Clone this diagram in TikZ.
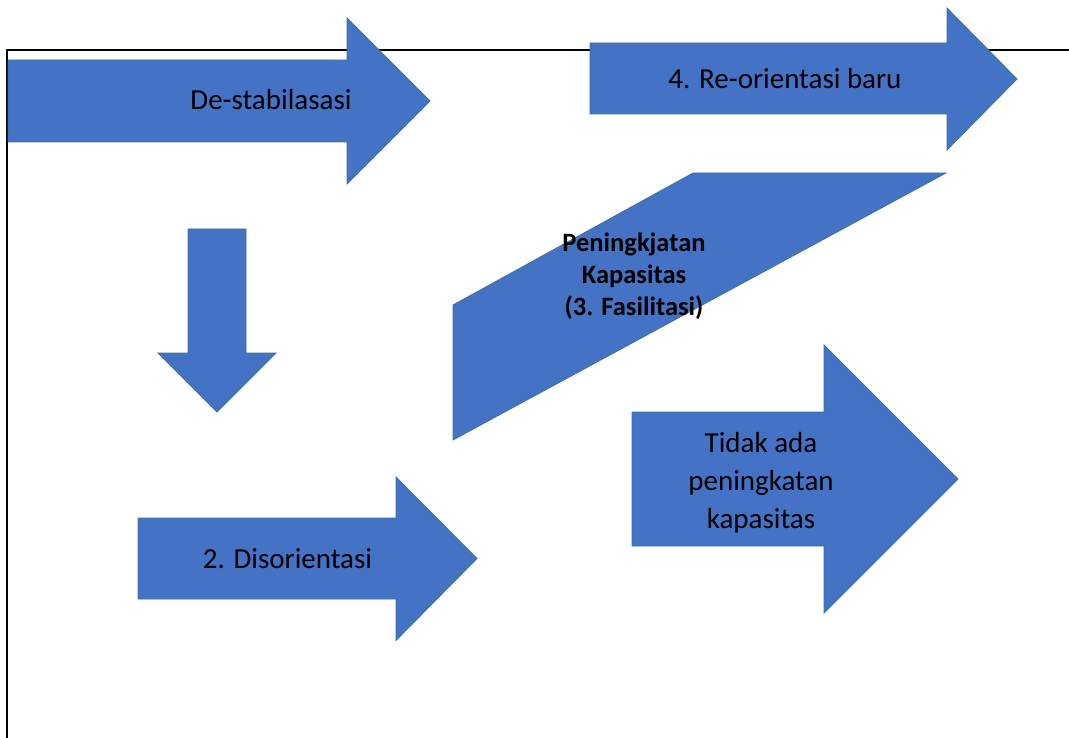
\documentclass[tikz,border=0pt]{standalone}
\usepackage{fontspec}
\setmainfont{Carlito}
\definecolor{arrowfill}{HTML}{4472C4}
\definecolor{arrowline}{HTML}{41719C}

\begin{document}
\begin{tikzpicture}[x=1pt,y=-1pt,
  blockarrow/.style={fill=arrowfill,draw=arrowline,line width=0.8pt,line join=miter},
  framerule/.style={draw=black,line width=2pt},
  arrowtext/.style={font=\fontsize{29}{38.3}\selectfont,text=black,inner sep=0pt},
  boldtext/.style={font=\fontsize{26.5}{32}\selectfont\bfseries,text=black,align=center,inner sep=0pt}]
\useasboundingbox (0,0) rectangle (1069,738);

% page frame (top and left rules)
\draw[framerule] (7,738) -- (7,50) -- (1069,50);

% 1. De-stabilisation arrow
\path[blockarrow] (8,60) -- (347,60) -- (347,18) -- (430,101) -- (347,184) -- (347,142) -- (8,142) -- cycle;
% 4. Re-orientation arrow
\path[blockarrow] (590,43) -- (947,43) -- (947,8) -- (1017,79) -- (947,150) -- (947,114) -- (590,114) -- cycle;
% downward arrow
\path[blockarrow] (188,229) -- (246,229) -- (246,353) -- (276,353) -- (217,412) -- (158,353) -- (188,353) -- cycle;
% capacity building band
\path[blockarrow] (453,305) -- (693,173) -- (946,173) -- (453,440) -- cycle;
% 2. Disorientation arrow
\path[blockarrow] (138,518) -- (396,518) -- (396,477) -- (477,558.5) -- (396,640.5) -- (396,599) -- (138,599) -- cycle;
% no capacity increase arrow
\path[blockarrow] (632,412) -- (824,412) -- (824,345) -- (958,479) -- (824,613) -- (824,546) -- (632,546) -- cycle;

% labels
\node[arrowtext,anchor=base] (destab) at (271,109.3) {De-stabilasasi};
\node[arrowtext,anchor=base] (reorient) at (785,88.3) {4. Re-orientasi baru};
\node[arrowtext,anchor=base] (disorient) at (287.5,568.5) {2. Disorientasi};
\node[boldtext,anchor=center] (capacity) at (634,276) {Peningkjatan\\Kapasitas\\(3. Fasilitasi)};
\node[arrowtext,align=center,anchor=center] (nocapacity) at (761,482.6) {Tidak ada\\peningkatan\\kapasitas};
\end{tikzpicture}
\end{document}
